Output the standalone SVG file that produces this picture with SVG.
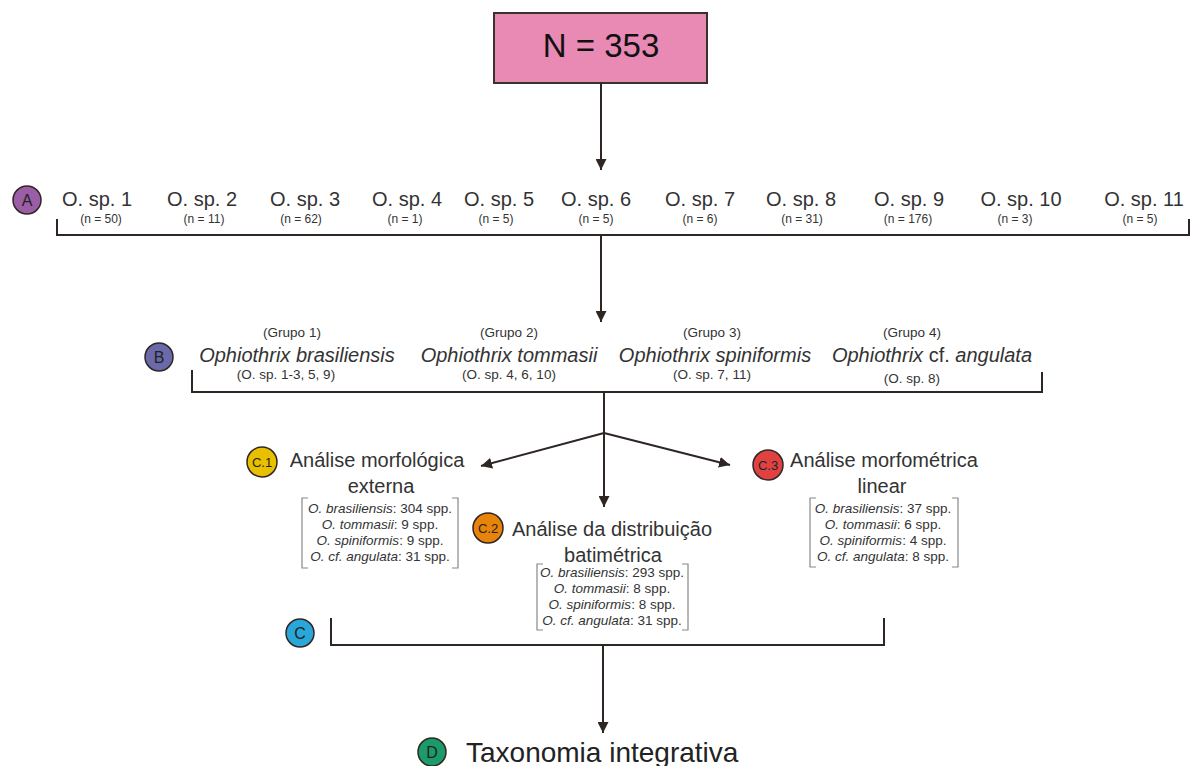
<svg xmlns="http://www.w3.org/2000/svg" width="1191" height="766" viewBox="0 0 1191 766">
<style>
text{font-family:"Liberation Sans",Arial,sans-serif;fill:#333;}
.big{font-size:20px;text-anchor:middle;}
.sm{font-size:12px;text-anchor:middle;}
.gs{font-size:13.5px;text-anchor:middle;}
.it{font-style:italic;}
.ls{font-size:13.5px;text-anchor:middle;}
.ln{stroke:#2e2623;stroke-width:2;fill:none;}
.br{stroke:#888;stroke-width:1.2;fill:none;}
.cl{stroke:#2e2623;stroke-width:1.5;}
.ct{font-size:16px;text-anchor:middle;fill:#222;}
.cs{font-size:13px;text-anchor:middle;fill:#222;}
</style>
<defs>
<marker id="ah" viewBox="0 0 10 10" refX="10" refY="5" markerWidth="11" markerHeight="11" markerUnits="userSpaceOnUse" orient="auto"><path d="M0,0 L10,5 L0,10 z" fill="#2e2623"/></marker>
</defs>
<rect width="1191" height="766" fill="#fff"/>
<g id="top">
<rect x="494" y="13" width="213" height="70" fill="#e98ab5" stroke="#3a302c" stroke-width="2"/>
<text x="601" y="57" style="font-size:33px;text-anchor:middle;fill:#111">N = 353</text>
</g>
<g id="rowA">
<circle class="cl" cx="27" cy="200" r="14" fill="#9b5ea6"/>
<text class="ct" x="27" y="206">A</text>
<text class="big" x="97" y="206">O. sp. 1</text><text class="sm" x="101" y="223">(n = 50)</text>
<text class="big" x="202" y="206">O. sp. 2</text><text class="sm" x="204" y="223">(n = 11)</text>
<text class="big" x="305" y="206">O. sp. 3</text><text class="sm" x="301" y="223">(n = 62)</text>
<text class="big" x="407" y="206">O. sp. 4</text><text class="sm" x="405" y="223">(n = 1)</text>
<text class="big" x="499" y="206">O. sp. 5</text><text class="sm" x="496" y="223">(n = 5)</text>
<text class="big" x="596" y="206">O. sp. 6</text><text class="sm" x="596" y="223">(n = 5)</text>
<text class="big" x="700" y="206">O. sp. 7</text><text class="sm" x="700" y="223">(n = 6)</text>
<text class="big" x="801" y="206">O. sp. 8</text><text class="sm" x="802" y="223">(n = 31)</text>
<text class="big" x="909" y="206">O. sp. 9</text><text class="sm" x="908" y="223">(n = 176)</text>
<text class="big" x="1021" y="206">O. sp. 10</text><text class="sm" x="1015" y="223">(n = 3)</text>
<text class="big" x="1144" y="206">O. sp. 11</text><text class="sm" x="1140" y="223">(n = 5)</text>
</g>
<g id="rowB">
<circle class="cl" cx="159" cy="357" r="14" fill="#6b69a9"/>
<text class="ct" x="159" y="363">B</text>
<text class="gs" x="292" y="337">(Grupo 1)</text>
<text class="big it" x="297" y="362">Ophiothrix brasiliensis</text>
<text class="gs" x="286" y="379">(O. sp. 1-3, 5, 9)</text>
<text class="gs" x="509" y="337">(Grupo 2)</text>
<text class="big it" x="509" y="362">Ophiothrix tommasii</text>
<text class="gs" x="509" y="379">(O. sp. 4, 6, 10)</text>
<text class="gs" x="712" y="337">(Grupo 3)</text>
<text class="big it" x="715" y="362">Ophiothrix spiniformis</text>
<text class="gs" x="712" y="379">(O. sp. 7, 11)</text>
<text class="gs" x="912" y="337">(Grupo 4)</text>
<text class="big" x="932" y="362"><tspan class="it">Ophiothrix</tspan> cf. <tspan class="it">angulata</tspan></text>
<text class="gs" x="912" y="383">(O. sp. 8)</text>
</g>
<g id="c1">
<circle class="cl" cx="262" cy="462" r="15" fill="#e8c000"/>
<text class="cs" x="262" y="467">C.1</text>
<text class="big" x="377" y="467">Análise morfológica</text>
<text class="big" x="381" y="493">externa</text>
<path class="br" d="M308,498 H302 V568 H308 M452,498 H458 V568 H452"/>
<text class="ls" x="380" y="513"><tspan class="it">O. brasiliensis</tspan>: 304 spp.</text>
<text class="ls" x="380" y="529"><tspan class="it">O. tommasii</tspan>: 9 spp.</text>
<text class="ls" x="380" y="545"><tspan class="it">O. spiniformis</tspan>: 9 spp.</text>
<text class="ls" x="380" y="561"><tspan class="it">O. cf. angulata</tspan>: 31 spp.</text>
</g>
<g id="c2">
<circle class="cl" cx="488" cy="528" r="15" fill="#e8830c"/>
<text class="cs" x="488" y="533">C.2</text>
<text class="big" x="612" y="536">Análise da distribuição</text>
<text class="big" x="613" y="562">batimétrica</text>
<path class="br" d="M543,564 H537 V630 H543 M682,564 H688 V630 H682"/>
<text class="ls" x="612" y="577"><tspan class="it">O. brasiliensis</tspan>: 293 spp.</text>
<text class="ls" x="612" y="593"><tspan class="it">O. tommasii</tspan>: 8 spp.</text>
<text class="ls" x="612" y="609"><tspan class="it">O. spiniformis</tspan>: 8 spp.</text>
<text class="ls" x="612" y="625"><tspan class="it">O. cf. angulata</tspan>: 31 spp.</text>
</g>
<g id="c3">
<circle class="cl" cx="768" cy="465" r="15" fill="#e04242"/>
<text class="cs" x="768" y="470">C.3</text>
<text class="big" x="884" y="467">Análise morfométrica</text>
<text class="big" x="882" y="493">linear</text>
<path class="br" d="M816,498 H810 V567 H816 M952,498 H958 V567 H952"/>
<text class="ls" x="883" y="513"><tspan class="it">O. brasiliensis</tspan>: 37 spp.</text>
<text class="ls" x="883" y="529"><tspan class="it">O. tommasii</tspan>: 6 spp.</text>
<text class="ls" x="883" y="545"><tspan class="it">O. spiniformis</tspan>: 4 spp.</text>
<text class="ls" x="883" y="561"><tspan class="it">O. cf. angulata</tspan>: 8 spp.</text>
</g>
<g id="c">
<circle class="cl" cx="300" cy="633" r="14" fill="#2aa7d9"/>
<text class="ct" x="300" y="639">C</text>
</g>
<g id="d">
<circle class="cl" cx="432" cy="752" r="14" fill="#1b9b6b"/>
<text class="ct" x="432" y="758">D</text>
<text x="466" y="762" style="font-size:28px;fill:#222">Taxonomia integrativa</text>
</g>
<g id="connectors">
<line class="ln" x1="601" y1="83" x2="601" y2="170" marker-end="url(#ah)"/>
<path class="ln" d="M57,219 V235 H1189 V219"/>
<line class="ln" x1="601" y1="235" x2="601" y2="322" marker-end="url(#ah)"/>
<path class="ln" d="M192,370 V392 H1042 V372"/>
<line class="ln" x1="604" y1="392" x2="604" y2="507" marker-end="url(#ah)"/>
<line class="ln" x1="604" y1="433" x2="481" y2="466" marker-end="url(#ah)"/>
<line class="ln" x1="604" y1="433" x2="730" y2="465" marker-end="url(#ah)"/>
<path class="ln" d="M331,618 V645 H884 V618"/>
<line class="ln" x1="603" y1="645" x2="603" y2="733" marker-end="url(#ah)"/>
</g>
</svg>
